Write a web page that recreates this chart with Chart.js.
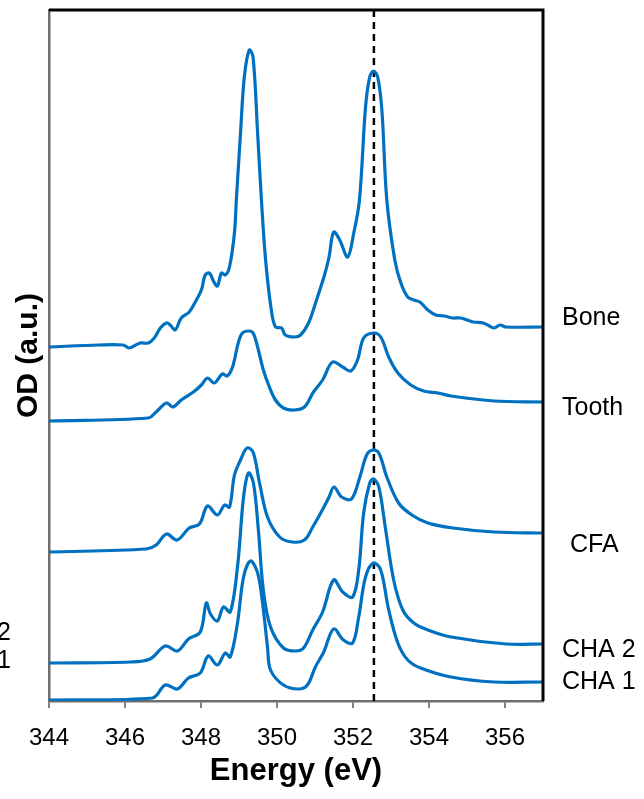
<!DOCTYPE html>
<html>
<head>
<meta charset="utf-8">
<script src="https://cdn.jsdelivr.net/npm/chart.js@4.4.1/dist/chart.umd.min.js"></script>
<style>
    html, body { margin: 0; padding: 0; background: #fff; }
    #contenitore { width: 644px; height: 799px; }
</style>
</head>
<body>
<div id="contenitore"><canvas id="myChart"></canvas></div>
<script>
// Dati (energia in eV, OD in unita arbitrarie)
var energiaBone = [344.00, 345.31, 345.95, 346.11, 346.40, 346.61, 346.77, 346.93, 347.09, 347.19, 347.32, 347.48, 347.69, 347.85, 348.01, 348.11, 348.22, 348.34, 348.43, 348.54, 348.64, 348.75, 348.88, 348.93, 349.04, 349.14, 349.27, 349.37, 349.49, 349.59, 349.70, 349.85, 349.96, 350.12, 350.22, 350.46, 350.62, 350.83, 351.04, 351.25, 351.37, 351.49, 351.65, 351.86, 352.02, 352.17, 352.33, 352.44, 352.54, 352.65, 352.76, 352.89, 353.10, 353.26, 353.44, 353.60, 353.76, 353.97, 354.18, 354.40, 354.63, 354.84, 355.16, 355.43, 355.71, 355.87, 356.03, 357.00];
var odBone = [354, 356, 356, 353, 358, 358, 363, 373, 378, 376, 371, 383, 389, 399, 411, 426, 428, 419, 415, 428, 426, 434, 468, 501, 568, 624, 651, 644, 568, 501, 441, 391, 374, 373, 366, 364, 366, 378, 401, 426, 444, 469, 461, 444, 468, 501, 594, 624, 630, 624, 591, 501, 441, 418, 404, 401, 399, 391, 386, 385, 383, 383, 379, 378, 373, 376, 374, 374];

var energiaTooth = [344.00, 346.61, 346.82, 347.09, 347.26, 347.48, 347.80, 348.01, 348.17, 348.35, 348.56, 348.69, 348.83, 348.98, 349.09, 349.26, 349.37, 349.49, 349.64, 349.80, 349.96, 350.17, 350.46, 350.72, 350.96, 351.20, 351.46, 351.73, 351.94, 352.12, 352.28, 352.54, 352.73, 352.94, 353.18, 353.52, 353.86, 354.23, 354.58, 355.71, 357.00];
var odTooth = [280, 283, 289, 298, 294, 301, 309, 316, 323, 318, 327, 325, 334, 358, 368, 370, 368, 354, 331, 314, 301, 293, 291, 294, 309, 321, 339, 334, 330, 341, 363, 368, 364, 344, 328, 316, 310, 308, 305, 300, 299];

var energiaCFA = [344.00, 346.56, 346.82, 347.09, 347.37, 347.69, 347.96, 348.17, 348.43, 348.62, 348.75, 348.88, 349.04, 349.21, 349.37, 349.54, 349.75, 350.07, 350.40, 350.72, 350.94, 351.15, 351.37, 351.50, 351.70, 351.96, 352.18, 352.36, 352.52, 352.68, 352.89, 353.20, 353.55, 353.97, 354.63, 355.71, 357.00];
var odCFA = [149, 152, 156, 167, 161, 173, 177, 195, 186, 196, 194, 226, 241, 253, 249, 218, 184, 164, 159, 161, 174, 188, 204, 214, 204, 202, 224, 246, 251, 248, 224, 198, 186, 178, 173, 169, 168];

var energiaCHA2 = [344.00, 346.14, 346.66, 347.06, 347.38, 347.67, 347.98, 348.14, 348.25, 348.43, 348.59, 348.77, 348.96, 349.12, 349.25, 349.38, 349.51, 349.64, 349.83, 350.17, 350.49, 350.70, 350.94, 351.20, 351.49, 351.73, 351.99, 352.15, 352.28, 352.44, 352.54, 352.68, 352.86, 353.07, 353.31, 353.60, 353.97, 354.58, 356.03, 357.00];
var odCHA2 = [38, 39, 42, 55, 50, 62, 69, 98, 87, 80, 94, 89, 134, 204, 228, 218, 171, 111, 74, 53, 50, 53, 71, 89, 121, 109, 104, 131, 188, 218, 222, 214, 171, 121, 91, 78, 71, 64, 57, 57];

var energiaCHA1 = [344.00, 346.72, 347.06, 347.38, 347.67, 347.98, 348.19, 348.43, 348.64, 348.77, 348.96, 349.12, 349.30, 349.49, 349.62, 349.75, 349.83, 350.17, 350.57, 350.80, 351.01, 351.23, 351.49, 351.75, 351.99, 352.15, 352.33, 352.54, 352.73, 352.94, 353.18, 353.44, 353.78, 354.58, 355.71, 357.00];
var odCHA1 = [1, 3, 16, 12, 23, 28, 45, 36, 48, 44, 78, 124, 140, 128, 98, 54, 31, 16, 12, 16, 34, 49, 72, 61, 58, 84, 124, 138, 131, 91, 58, 41, 33, 24, 19, 19];

// Linea tratteggiata verticale e tick dell'asse x
var energiaRiferimento = 352.55;
var tickEnergia = [344, 346, 348, 350, 352, 354, 356];

// Etichette a destra: nome, livello OD
var nomiCampioni = ['Bone', 'Tooth', 'CFA', 'CHA 2', 'CHA 1'];
var livelliEtichette = [383, 293, 156, 51, 19];
// pezzi di etichette tagliate sul bordo sinistro
var nomiTagliati = ['CHA 2', 'CHA 1'];
var livelliTagliati = [68, 40];

var BLU = '#0070C0';
var FONT = '"Liberation Sans", Arial, sans-serif';

function creaPunti(xs, ys) {
    var punti = [];
    for (var i = 0; i < xs.length; i++) {
        punti.push({ x: xs[i], y: ys[i] });
    }
    return punti;
}

function serie(xs, ys) {
    return {
        data: creaPunti(xs, ys),
        borderColor: BLU,
        borderWidth: 3.2,
        pointRadius: 0,
        fill: false,
        tension: 0.35
    };
}

// Plugin per bordo superiore/destro ed etichette dei campioni
var pluginBordi = {
    id: 'bordi',
    afterDraw: function(chart) {
        var ctx = chart.ctx;
        var area = chart.chartArea;
        var sy = chart.scales.y;
        ctx.save();
        ctx.strokeStyle = '#000';
        ctx.lineWidth = 3;
        ctx.beginPath();
        ctx.moveTo(area.left, area.top);
        ctx.lineTo(area.right, area.top);
        ctx.lineTo(area.right, area.bottom);
        ctx.stroke();

        ctx.fillStyle = '#000';
        ctx.font = '25px ' + FONT;
        ctx.textBaseline = 'middle';
        ctx.textAlign = 'left';
        for (var i = 0; i < nomiCampioni.length; i++) {
            var dx = nomiCampioni[i] === 'CFA' ? 27 : 19;
            ctx.fillText(nomiCampioni[i], area.right + dx, sy.getPixelForValue(livelliEtichette[i]));
        }
        ctx.textAlign = 'right';
        for (var j = 0; j < nomiTagliati.length; j++) {
            ctx.fillText(nomiTagliati[j], 11, sy.getPixelForValue(livelliTagliati[j]));
        }
        ctx.restore();
    }
};

var ctx = document.getElementById('myChart').getContext('2d');
var myChart = new Chart(ctx, {
    type: 'line',
    data: {
        datasets: [
            serie(energiaBone, odBone),
            serie(energiaTooth, odTooth),
            serie(energiaCFA, odCFA),
            serie(energiaCHA2, odCHA2),
            serie(energiaCHA1, odCHA1),
            {
                data: [{ x: energiaRiferimento, y: 0 }, { x: energiaRiferimento, y: 691 }],
                borderColor: '#000',
                borderWidth: 2.5,
                borderDash: [7, 5],
                pointRadius: 0,
                fill: false
            }
        ]
    },
    options: {
        responsive: true,
        maintainAspectRatio: false,
        animation: false,
        layout: { padding: { top: 10, right: 101, left: 0, bottom: 0 } },
        plugins: {
            legend: { display: false },
            tooltip: { enabled: false }
        },
        scales: {
            x: {
                type: 'linear',
                min: 344,
                max: 357,
                afterFit: function(scale) { scale.height = 98; },
                afterBuildTicks: function(scale) {
                    scale.ticks = tickEnergia.map(function(v) { return { value: v }; });
                },
                ticks: {
                    color: '#000',
                    padding: 16,
                    maxRotation: 0,
                    font: { size: 24, family: FONT }
                },
                grid: {
                    drawOnChartArea: false,
                    tickLength: 7,
                    color: '#808080',
                    lineWidth: 2
                },
                border: { color: '#6f6f6f', width: 2.5 },
                title: {
                    display: true,
                    text: 'Energy (eV)',
                    color: '#000',
                    font: { size: 31, weight: 'bold', family: FONT, lineHeight: 1 },
                    padding: { top: 0, bottom: 12 }
                }
            },
            y: {
                min: 0,
                max: 691,
                afterFit: function(scale) { scale.width = 49; },
                ticks: { display: false },
                grid: { display: false, drawTicks: false },
                border: { display: true, color: '#6f6f6f', width: 2.5 },
                title: {
                    display: true,
                    text: 'OD (a.u.)',
                    color: '#000',
                    font: { size: 30, weight: 'bold', family: FONT, lineHeight: 1 },
                    padding: { top: 14, bottom: 0 }
                }
            }
        }
    },
    plugins: [pluginBordi]
});
</script>
</body>
</html>
